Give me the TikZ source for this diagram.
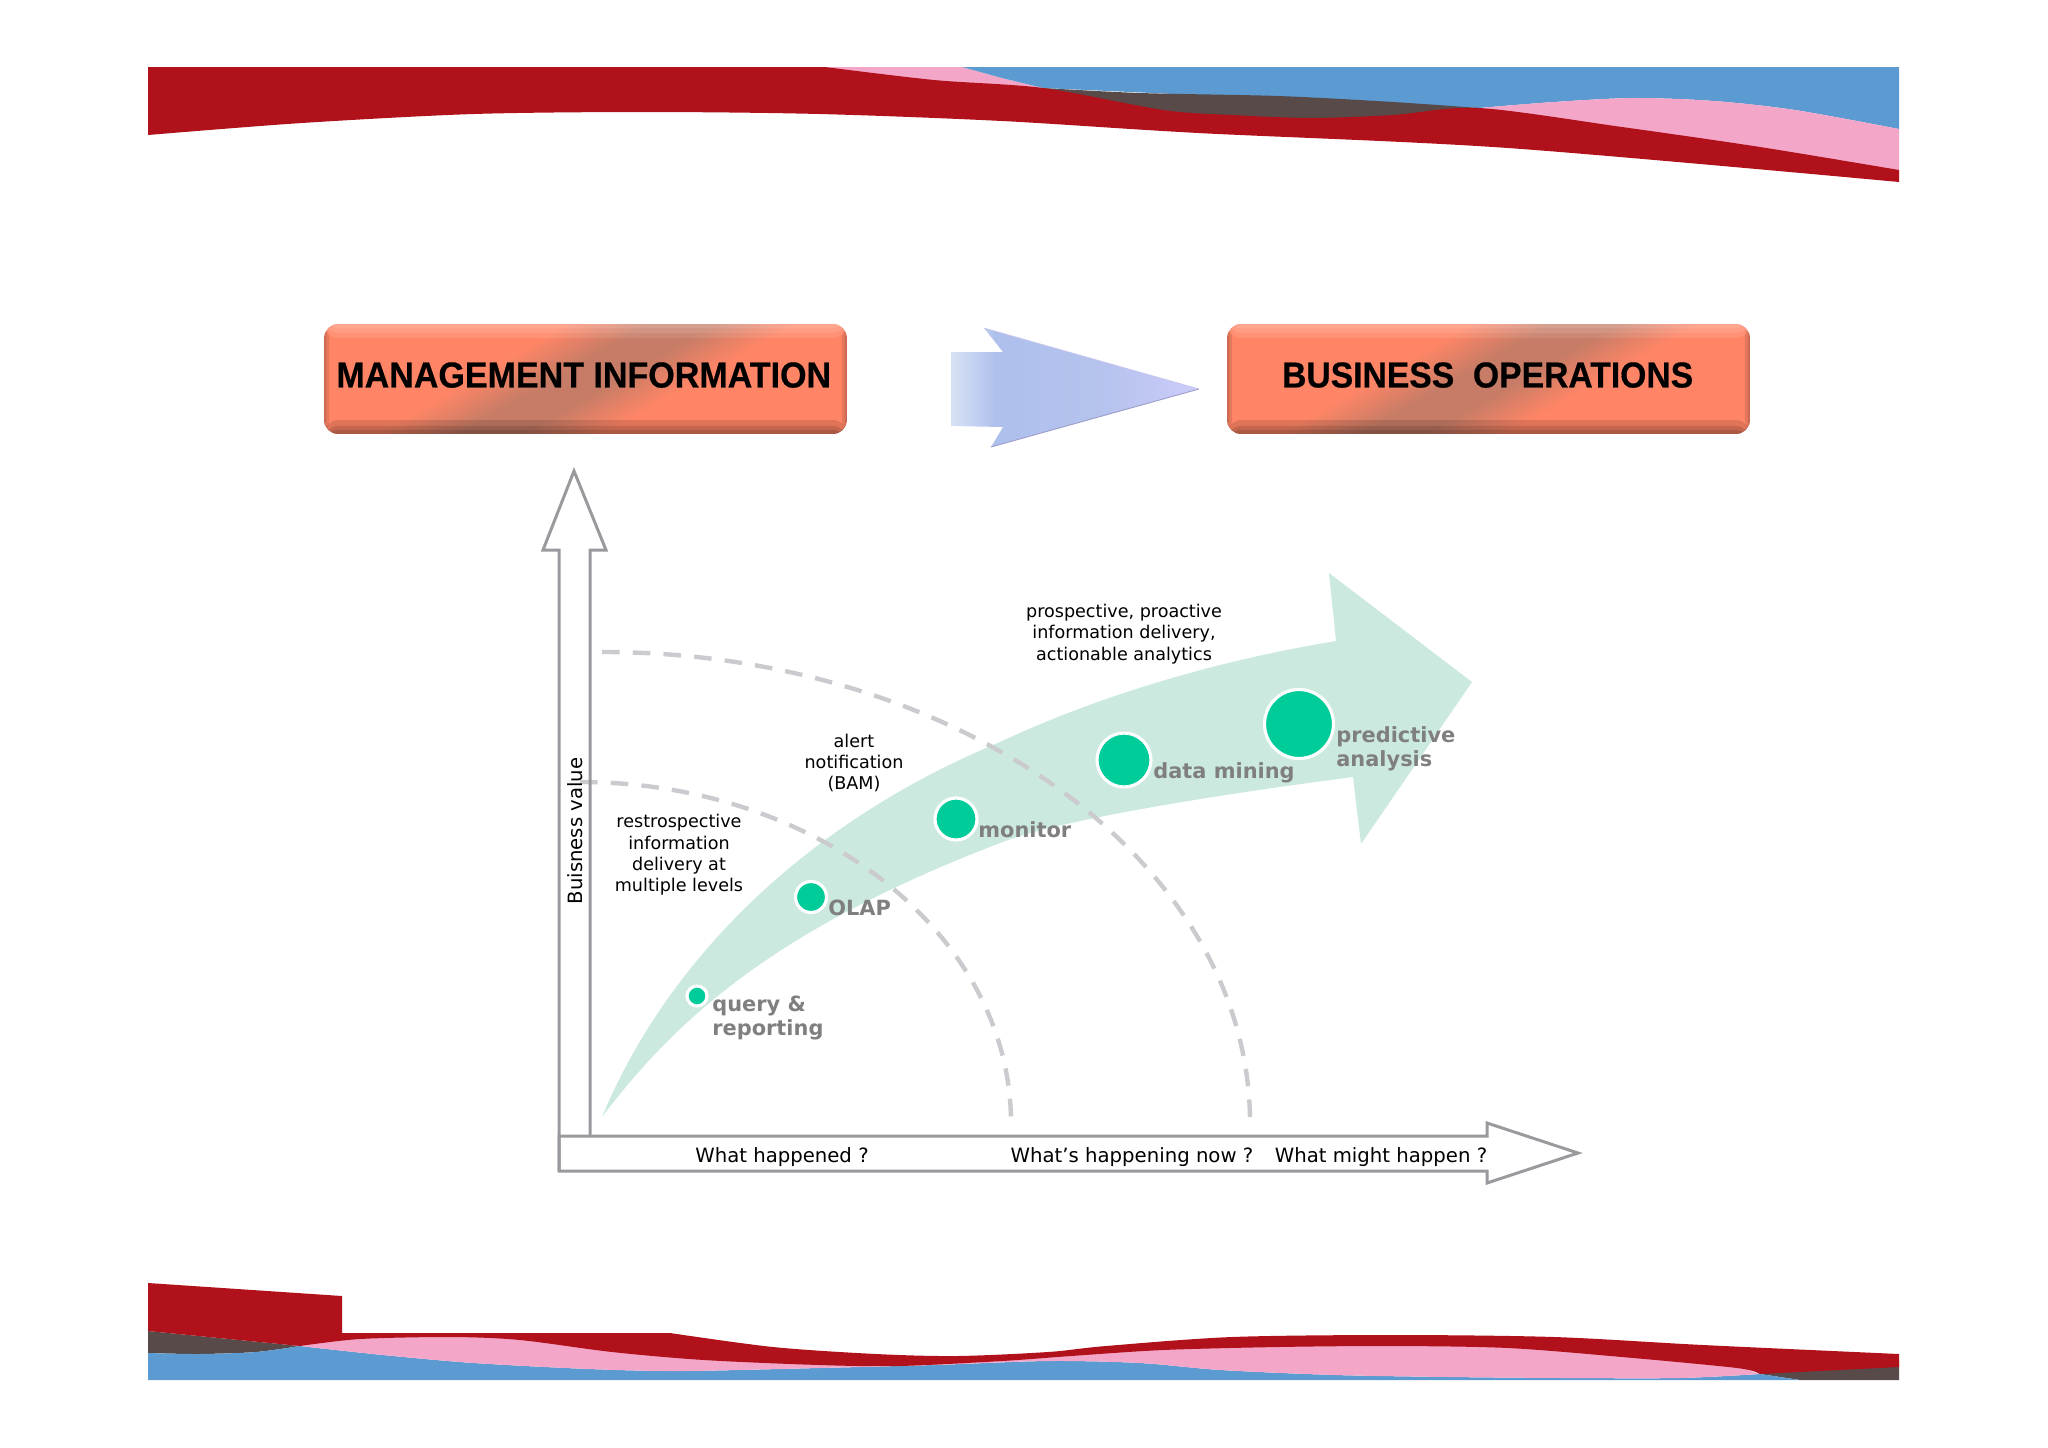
\documentclass[tikz,border=0pt]{standalone}
\usepackage{fontspec}
\usepackage{graphicx}
\setmainfont{DejaVu Sans}
\newfontfamily\headfont[BoldFeatures={FakeBold=.5}]{Liberation Sans}
\definecolor{bandred}{HTML}{B0111A}
\definecolor{bandpink}{HTML}{F4A6C8}
\definecolor{bandblue}{HTML}{5C9AD2}
\definecolor{banddark}{HTML}{574A49}
\definecolor{boxsalmon}{HTML}{FF8566}
\definecolor{boxdusk}{HTML}{C67C66}
\definecolor{swoosh}{HTML}{CBE9DE}
\definecolor{ballgreen}{HTML}{00CC99}
\definecolor{axisgray}{HTML}{9A9A9E}
\definecolor{dashgray}{HTML}{CBCBCF}
\definecolor{labelgray}{HTML}{7F7F7F}
\definecolor{arrowpale}{HTML}{D8E2F6}
\definecolor{arrowblue}{HTML}{AFC0EC}
\definecolor{arrowmid}{HTML}{B5C2EE}
\definecolor{arrowtip}{HTML}{CCCCFA}
\pgfdeclarehorizontalshading{infoband}{100bp}{color(0bp)=(boxsalmon); color(39bp)=(boxsalmon);
  color(47bp)=(boxdusk); color(53bp)=(boxdusk); color(61bp)=(boxsalmon); color(100bp)=(boxsalmon)}
\pgfdeclarehorizontalshading{arrowband}{100bp}{color(0bp)=(arrowpale); color(25bp)=(arrowpale);
  color(34bp)=(arrowblue); color(55bp)=(arrowmid); color(75bp)=(arrowtip); color(100bp)=(arrowtip)}
\tikzset{
  infobox/.style={shade,shading=infoband,shading angle=-60,rounded corners=8pt,
    minimum width=10.46cm,minimum height=2.2cm,inner sep=0pt,
    font=\headfont\bfseries\fontsize{20.5}{23}\selectfont,
    path picture={
      \foreach \d in {4,8,14}
        \fill[black,opacity=.12] (path picture bounding box.south west) rectangle
          ([yshift=\d*.569pt]path picture bounding box.south east);
      \foreach \d in {4,9,14}
        \fill[white,opacity=.1] (path picture bounding box.north west) rectangle
          ([yshift=-\d*.569pt]path picture bounding box.north east);
      \foreach \d in {2,5}{
        \fill[black,opacity=.1] (path picture bounding box.south west) rectangle
          ([xshift=\d*.569pt]path picture bounding box.north west);
        \fill[black,opacity=.1] (path picture bounding box.south east) rectangle
          ([xshift=-\d*.569pt]path picture bounding box.north east);}
    }},
  greenball/.style={circle,fill=ballgreen,draw=white,line width=1.8pt,inner sep=0pt},
  balltext/.style={anchor=base west,inner sep=0pt,align=left,text=labelgray,
    font=\bfseries\fontsize{11.9}{13.3}\selectfont},
  plaintext/.style={inner sep=0pt,align=center,font=\fontsize{10}{12.1}\selectfont},
  axistext/.style={inner sep=0pt,font=\fontsize{11.2}{13}\selectfont},
  axisarrow/.style={draw=axisgray,line width=1.7pt,line join=miter},
  dashline/.style={draw=dashgray,line width=2.5pt,dash pattern=on 10pt off 7.5pt}
}

\begin{document}
\begin{tikzpicture}[x=0.02cm,y=-0.02cm]
  \useasboundingbox (0,0) rectangle (2048,1447);
  % top band
  \fill[bandpink] (825,67) -- (962,67) -- (1002,78) -- (1043,88) -- (1043,100) -- (934,92) -- cycle;
  \fill[bandblue] (962,67) -- (1899,67) -- (1899,129)
    -- plot[smooth] coordinates {(1899,129) (1795,110) (1714,101) (1634,98) (1554,102) (1479,108)}
    -- (1043,88) -- (1002,78) -- cycle;
  \fill[bandpink] (1899,129) -- (1899,176) -- (1479,116)
    -- plot[smooth] coordinates {(1479,108) (1554,102) (1634,98) (1714,101) (1795,110) (1899,129)} -- cycle;
  \fill[banddark] plot[smooth] coordinates {(1043,88) (1140,93) (1278,96) (1393,102) (1479,108)}
    -- (1393,122) -- (1163,118) -- cycle;
  \fill[bandred] (148,67) -- (825,67)
    -- plot[smooth] coordinates {(825,67) (934,80) (1043,88) (1163,110) (1232,115) (1312,118) (1393,115) (1479,108) (1622,127) (1760,147) (1899,170)}
    -- plot[smooth] coordinates {(1899,182) (1508,148) (1198,133) (1002,121) (819,114) (647,112) (474,114) (302,123) (148,135)} -- cycle;

  % bottom band
  \fill[banddark] (148,1331) -- (300,1346)
    -- plot[smooth] coordinates {(300,1346) (256,1352) (199,1354) (148,1353)} -- cycle;
  \fill[banddark] (1899,1360) -- (1899,1380) -- (1800,1380) -- (1760,1374) -- (1750,1368) -- cycle;
  \fill[bandblue] (148,1353) -- plot[smooth] coordinates {(148,1353) (199,1354) (256,1352) (300,1346)}
    -- plot[smooth] coordinates {(300,1346) (383,1355) (474,1363) (589,1369) (681,1371) (819,1368) (934,1365) (1048,1361) (1140,1363) (1221,1370) (1335,1375) (1450,1377) (1565,1378) (1680,1378) (1760,1374)}
    -- (1800,1380) -- (148,1380) -- cycle;
  \fill[bandpink] plot[smooth] coordinates {(300,1346) (383,1355) (474,1363) (589,1369) (681,1371) (819,1368) (934,1365) (1048,1361) (1140,1363) (1221,1370) (1335,1375) (1450,1377) (1565,1378) (1680,1378) (1760,1374)}
    -- (1703,1355) -- (1554,1343) -- (1393,1340) -- (1071,1352) -- (899,1360) -- (612,1345) -- (451,1335) -- (360,1335) -- cycle;
  \fill[bandred] (148,1283) -- (342,1296) -- (342,1333) -- (670,1333)
    -- plot[smooth] coordinates {(670,1333) (773,1347) (876,1354) (957,1356) (1048,1352) (1106,1346) (1232,1337) (1393,1335) (1554,1337) (1703,1345) (1899,1354)}
    -- (1899,1367) -- (1760,1374)
    -- plot[smooth] coordinates {(1760,1374) (1737,1368) (1622,1357) (1508,1348) (1393,1346) (1278,1347) (1163,1350) (1071,1356) (1002,1361) (899,1366) (819,1365) (704,1360) (612,1352) (520,1340) (451,1337) (360,1339) (300,1346)}
    -- (148,1331) -- cycle;

  % header boxes
  \node[infobox] (mgmtbox) at (585.5,379) {\raisebox{4.7pt}{\hspace*{-2pt}\scalebox{.945}[1]{MANAGEMENT INFORMATION}}};
  \node[infobox] (bizbox) at (1488.5,379) {\raisebox{4.7pt}{\hspace*{-1pt}\scalebox{.935}[1]{BUSINESS\ \ OPERATIONS}}};
  \shade[shading=arrowband] (951,352) -- (1003,352) -- (984,328) -- (1199,389)
    -- (991,447) -- (1003,427) -- (951,426) -- cycle;
  \draw[gray!70!blue!60,line width=.5pt] (991,447) -- (1199,389);
  \draw[gray!50!blue!30,line width=.4pt] (984,328) -- (1199,389);

  % swoosh
  \fill[swoosh] (602,1117) .. controls (665,965) and (800,825) .. (1000,742)
    .. controls (1100,695) and (1220,660) .. (1336,641)
    -- (1329,573) -- (1472,682) -- (1361,844) -- (1353,777)
    .. controls (1230,793) and (1060,819) .. (1000,843)
    .. controls (800,920) and (690,1000) .. (602,1117) -- cycle;

  % dashed arcs
  \draw[dashline] (580,782) arc[start angle=-90,end angle=0,x radius=431,y radius=341];
  \draw[dashline] (602,652) arc[start angle=-90,end angle=0,x radius=648,y radius=471];

  % axes
  \draw[axisarrow] (590,1136) -- (590,550) -- (606,550) -- (574,471) -- (543,550) -- (559,550) -- (559,1171);
  \draw[axisarrow] (559,1136) -- (1487,1136) -- (1487,1123) -- (1578,1153) -- (1487,1183) -- (1487,1171) -- (559,1171) -- cycle;
  \node[axistext,rotate=90] (yaxis) at (575,831) {Buisness value};
  \node[axistext] (xleft) at (782,1157) {What happened ?};
  \node[axistext] (xmid) at (1132,1157) {What’s happening now ?};
  \node[axistext] (xright) at (1381,1157) {What might happen ?};

  % stages
  \node[greenball,minimum size=.4cm] (query) at (697,996) {};
  \node[greenball,minimum size=.62cm] (olap) at (811,897) {};
  \node[greenball,minimum size=.84cm] (monitor) at (956,819) {};
  \node[greenball,minimum size=1.08cm] (mining) at (1124,760) {};
  \node[greenball,minimum size=1.38cm] (predict) at (1299,724) {};
  \node[balltext] (querytext) at (712,1035) {query \&\\reporting};
  \node[balltext] (olaptext) at (828,915) {OLAP};
  \node[balltext] (monitortext) at (978,837) {monitor};
  \node[balltext] (miningtext) at (1153,778) {data mining};
  \node[balltext] (predicttext) at (1336,766) {predictive\\analysis};
  \node[plaintext] (retro) at (679,855) {restrospective\\information\\delivery at\\multiple levels};
  \node[plaintext] (alert) at (854,763) {alert\\notification\\(BAM)};
  \node[plaintext] (prosp) at (1124,634) {prospective, proactive\\information delivery,\\actionable analytics};
\end{tikzpicture}
\end{document}
